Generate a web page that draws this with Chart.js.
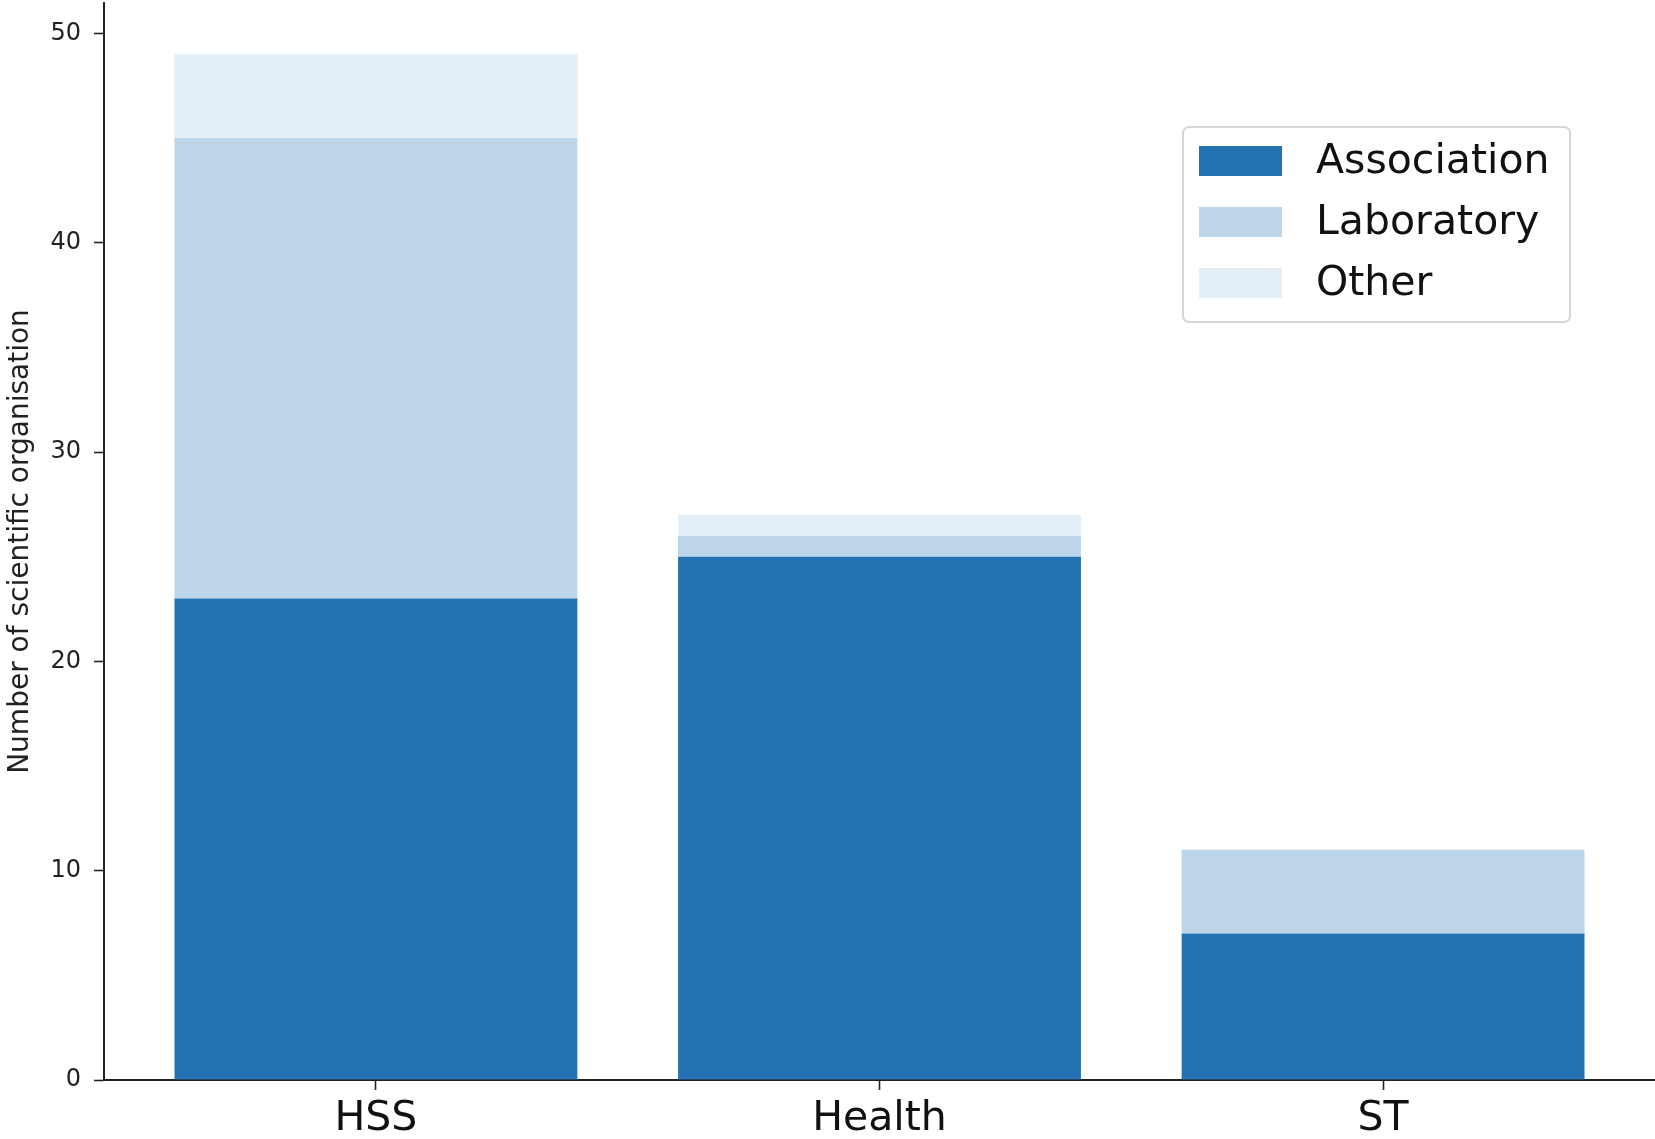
<!DOCTYPE html>
<html>
<head>
<meta charset="utf-8">
<script src="https://cdn.jsdelivr.net/npm/chart.js@4.4.1/dist/chart.umd.min.js"></script>
<style>
  html, body { margin: 0; padding: 0; background: #ffffff; }
  #wrap { width: 1655px; height: 1139px; }
</style>
</head>
<body>
<div id="wrap"><canvas id="c" width="1655" height="1139"></canvas></div>
<script>
const categories = ['HSS', 'Health', 'ST'];
const association = [23, 25, 7];
const laboratory = [22, 1, 4];
const other = [4, 1, 0];
const seriesNames = ['Association', 'Laboratory', 'Other'];
const seriesColors = ['#2472b2', '#bdd5e8', '#e4eef6'];
const yTicks = [0, 10, 20, 30, 40, 50];

function toPoints(arr) { return arr.map((v, i) => ({ x: i, y: v })); }

const FONT = "'DejaVu Sans', sans-serif";

const legendPlugin = {
  id: 'mplLegend',
  afterDraw(chart) {
    const ctx = chart.ctx;
    const bx = 1183, by = 127, bw = 387, bh = 195, r = 6;
    ctx.save();
    ctx.beginPath();
    ctx.moveTo(bx + r, by);
    ctx.lineTo(bx + bw - r, by);
    ctx.arcTo(bx + bw, by, bx + bw, by + r, r);
    ctx.lineTo(bx + bw, by + bh - r);
    ctx.arcTo(bx + bw, by + bh, bx + bw - r, by + bh, r);
    ctx.lineTo(bx + r, by + bh);
    ctx.arcTo(bx, by + bh, bx, by + bh - r, r);
    ctx.lineTo(bx, by + r);
    ctx.arcTo(bx, by, bx + r, by, r);
    ctx.closePath();
    ctx.fillStyle = 'rgba(255,255,255,0.8)';
    ctx.fill();
    ctx.strokeStyle = '#d6d6d6';
    ctx.lineWidth = 2;
    ctx.stroke();
    const centers = [161, 222, 283];
    chart.data.datasets.forEach((ds, i) => {
      ctx.fillStyle = ds.backgroundColor;
      ctx.fillRect(1199, centers[i] - 15, 83, 30);
      ctx.fillStyle = '#111111';
      ctx.font = '41px ' + FONT;
      ctx.textBaseline = 'middle';
      ctx.textAlign = 'left';
      ctx.fillText(ds.label, 1316, centers[i] + 1);
    });
    ctx.restore();
  }
};

new Chart(document.getElementById('c'), {
  type: 'bar',
  data: {
    datasets: [
      { label: seriesNames[0], data: toPoints(association), backgroundColor: seriesColors[0], borderWidth: 0 },
      { label: seriesNames[1], data: toPoints(laboratory), backgroundColor: seriesColors[1], borderWidth: 0 },
      { label: seriesNames[2], data: toPoints(other), backgroundColor: seriesColors[2], borderWidth: 0 }
    ]
  },
  options: {
    responsive: false,
    devicePixelRatio: 1,
    animation: false,
    layout: { padding: { top: 3, right: 0, left: 0, bottom: 0 } },
    datasets: { bar: { categoryPercentage: 1.0, barPercentage: 0.8 } },
    plugins: {
      legend: { display: false },
      tooltip: { enabled: false }
    },
    scales: {
      x: {
        type: 'linear',
        stacked: true,
        min: -0.54,
        max: 2.54,
        offset: false,
        afterBuildTicks: (scale) => { scale.ticks = categories.map((c, i) => ({ value: i })); },
        afterFit: (scale) => { scale.height = 59; scale.paddingLeft = 0; scale.paddingRight = 0; },
        grid: { display: true, offset: false, drawOnChartArea: false, drawTicks: true, tickLength: 10, tickWidth: 1.6, tickColor: '#222222' },
        border: { display: true, color: '#222222', width: 2 },
        ticks: {
          autoSkip: false,
          maxRotation: 0,
          padding: 5,
          color: '#111111',
          font: { family: FONT, size: 41 },
          callback: (v) => categories[v] ?? ''
        }
      },
      y: {
        stacked: true,
        min: 0,
        max: 51.45,
        afterBuildTicks: (scale) => { scale.ticks = yTicks.map(v => ({ value: v })); },
        afterFit: (scale) => { scale.width = 104; scale.paddingTop = 0; scale.paddingBottom = 0; },
        grid: { display: true, offset: false, drawOnChartArea: false, drawTicks: true, tickLength: 10, tickWidth: 1.6, tickColor: '#222222' },
        border: { display: true, color: '#222222', width: 2 },
        ticks: {
          padding: 13,
          color: '#222222',
          font: { family: FONT, size: 24 }
        },
        title: {
          display: true,
          text: 'Number of scientific organisation',
          color: '#222222',
          font: { family: FONT, size: 28 },
          padding: { top: 4, bottom: 0 }
        }
      }
    }
  },
  plugins: [legendPlugin]
});
</script>
</body>
</html>
